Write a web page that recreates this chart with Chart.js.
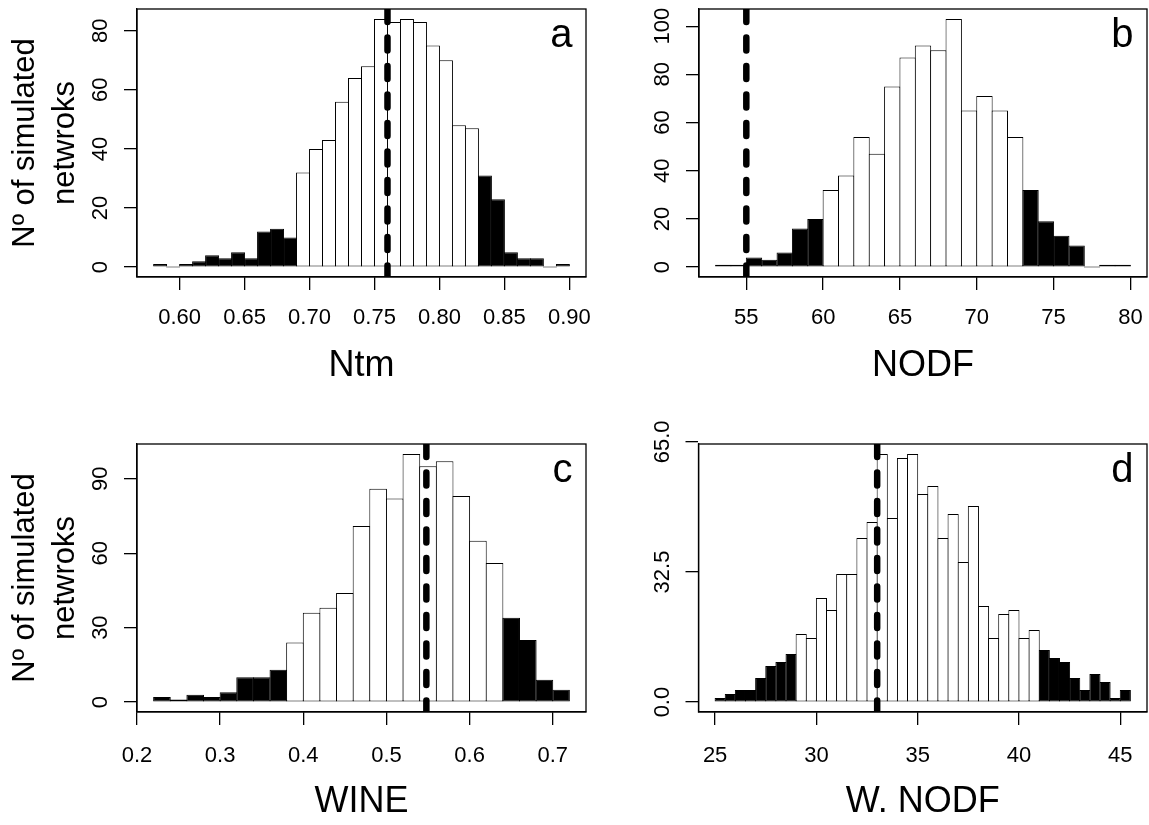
<!DOCTYPE html>
<html>
<head>
<meta charset="utf-8">
<script src="https://cdn.jsdelivr.net/npm/chart.js@4.4.1/dist/chart.umd.min.js"></script>
<style>
  body { margin: 0; background: #fff; }
  #wrap { position: relative; width: 1149px; height: 825px; }
  canvas { position: absolute; }
</style>
</head>
<body>
<div id="wrap">
  <canvas id="panelA" width="600" height="410" style="left:0;top:0"></canvas>
  <canvas id="panelB" width="549" height="410" style="left:600px;top:0"></canvas>
  <canvas id="panelC" width="600" height="415" style="left:0;top:410px"></canvas>
  <canvas id="panelD" width="549" height="415" style="left:600px;top:410px"></canvas>
</div>
<script>
// a: Ntm
const ntmStart = 0.58
const ntmBinWidth = 0.01
const ntmCounts = [1, 0, 1, 2, 4, 3, 5, 3, 12, 13, 10, 32, 40, 43, 56, 64, 68, 84, 83, 84, 83, 75, 70, 48, 47, 31, 23, 5, 3, 3, 0, 1]
const ntmTails = [0.69, 0.83]
const ntmObserved = 0.76
const ntmXTicks = [0.60, 0.65, 0.70, 0.75, 0.80, 0.85, 0.90]
const ntmYTicks = [0, 20, 40, 60, 80]

// b: NODF
const nodfStart = 53
const nodfBinWidth = 1
const nodfCounts = [1, 1, 4, 3, 6, 16, 20, 32, 38, 54, 47, 75, 87, 92, 90, 103, 65, 71, 65, 54, 32, 19, 13, 9, 0, 1, 1]
const nodfTails = [60, 73]
const nodfObserved = 55
const nodfXTicks = [55, 60, 65, 70, 75, 80]
const nodfYTicks = [0, 20, 40, 60, 80, 100]

// c: WINE
const wineStart = 0.22
const wineBinWidth = 0.02
const wineCounts = [2, 1, 3, 2, 4, 10, 10, 13, 24, 36, 38, 44, 71, 86, 82, 100, 95, 97, 83, 65, 56, 34, 25, 9, 5]
const wineTails = [0.38, 0.64]
const wineObserved = 0.548
const wineXTicks = [0.2, 0.3, 0.4, 0.5, 0.6, 0.7]
const wineYTicks = [0, 30, 60, 90]

// d: W. NODF
const wnodfStart = 25
const wnodfBinWidth = 0.5
const wnodfCounts = [1, 2, 3, 3, 6, 9, 10, 12, 17, 16, 26, 23, 32, 32, 41, 45, 62, 46, 61, 62, 52, 54, 41, 47, 35, 49, 24, 16, 22, 23, 16, 18, 13, 11, 10, 6, 3, 7, 5, 1, 3]
const wnodfTails = [29, 41]
const wnodfObserved = 33
const wnodfXTicks = [25, 30, 35, 40, 45]
const wnodfYTicks = [0, 32.5, 65]

const yTitle = ["Nº of simulated", "netwroks"]
const FONT = '"Liberation Sans", Arial, Helvetica, sans-serif'
const TICK_SIZE = 22
Chart.defaults.font.family = FONT
Chart.defaults.color = "#000"

// box around the plot region + panel letter
const panelFrame = {
  id: "panelFrame",
  afterDraw(chart, args, opts) {
    const { ctx, chartArea: a } = chart
    ctx.save()
    ctx.strokeStyle = "#000"
    ctx.lineWidth = 1.3
    ctx.strokeRect(a.left, a.top, a.right - a.left, a.bottom - a.top)
    ctx.font = "40px " + FONT
    ctx.fillStyle = "#000"
    ctx.textAlign = "right"
    ctx.textBaseline = "alphabetic"
    ctx.fillText(opts.letter, a.right - 13.5, a.top + 37.5)
    ctx.restore()
  }
}

const measure = document.createElement("canvas").getContext("2d")
measure.font = TICK_SIZE + "px " + FONT

function drawPanel(id, p) {
  const canvas = document.getElementById(id)
  const n = p.counts.length
  const end = p.start + n * p.bin
  const span = end - p.start
  const xMin = p.start - 0.04 * span
  const xMax = end + 0.04 * span
  const peak = Math.max(...p.counts)
  const yMin = -0.04 * peak
  const yMax = 1.04 * peak

  const bars = p.counts.map((c, i) => ({ x: p.start + (i + 0.5) * p.bin, y: c }))
  const colors = bars.map(b => (b.x < p.tails[0] || b.x > p.tails[1]) ? "#000" : "#fff")

  const areaWidth = canvas.width - p.box.left - p.box.right
  const binPx = p.bin * areaWidth / (xMax - xMin)

  const yLabels = p.yTicks.map(v => v.toFixed(p.yDigits))
  const widest = Math.max(...yLabels.map(s => measure.measureText(s).width))
  const yPad = 23 - widest / 2

  new Chart(canvas, {
    type: "bar",
    data: {
      datasets: [
        {
          type: "line",
          data: [{ x: p.observed, y: yMax }, { x: p.observed, y: yMin }],
          borderColor: "#000",
          borderWidth: 6.5,
          borderDash: [13, 15.5],
          borderCapStyle: "round",
          pointRadius: 0,
          fill: false,
          order: 0
        },
        {
          type: "bar",
          data: bars,
          backgroundColor: colors,
          borderColor: "#000",
          borderWidth: 1,
          borderSkipped: false,
          barPercentage: 1 + 1 / binPx,
          categoryPercentage: 1,
          minBarLength: 1,
          order: 1
        }
      ]
    },
    options: {
      responsive: false,
      animation: false,
      events: [],
      layout: { padding: { left: 0, top: p.box.top, right: p.box.right, bottom: 0 } },
      plugins: {
        legend: { display: false },
        tooltip: { enabled: false },
        panelFrame: { letter: p.letter }
      },
      scales: {
        x: {
          type: "linear",
          min: xMin,
          max: xMax,
          offset: false,
          afterBuildTicks: s => { s.ticks = p.xTicks.map(v => ({ value: v })) },
          afterFit: s => { s.height = p.box.bottom; s.paddingLeft = 0; s.paddingRight = 0 },
          grid: { display: true, offset: false, drawOnChartArea: false, drawTicks: true, tickLength: 13, tickColor: "#000", tickWidth: 1.3, lineWidth: 1.3 },
          border: { display: true, color: "#000", width: 1.3 },
          ticks: {
            font: { size: TICK_SIZE },
            color: "#000",
            padding: p.xPad,
            autoSkip: false,
            maxRotation: 0,
            callback: v => v.toFixed(p.xDigits)
          },
          title: { display: true, text: p.xTitle, color: "#000", font: { size: 36 }, padding: { top: 0, bottom: p.xTitlePad } }
        },
        y: {
          type: "linear",
          min: yMin,
          max: yMax,
          afterBuildTicks: s => { s.ticks = p.yTicks.map(v => ({ value: v })) },
          afterFit: s => { s.width = p.box.left; s.paddingTop = 0; s.paddingBottom = 0 },
          grid: { display: true, drawOnChartArea: false, drawTicks: true, tickLength: 13, tickColor: "#000", tickWidth: 1.3, lineWidth: 1.3 },
          border: { display: true, color: "#000", width: 1.3 },
          ticks: {
            font: { size: TICK_SIZE },
            color: "#000",
            padding: yPad,
            autoSkip: false,
            minRotation: 90,
            maxRotation: 90,
            crossAlign: "center",
            callback: v => v.toFixed(p.yDigits)
          },
          title: p.yTitle
            ? { display: true, text: p.yTitle, color: "#000", font: { size: 31, lineHeight: 1.3 }, padding: { top: 5, bottom: 0 } }
            : { display: false }
        }
      }
    },
    plugins: [panelFrame]
  })
}

drawPanel("panelA", {
  start: ntmStart, bin: ntmBinWidth, counts: ntmCounts, tails: ntmTails, observed: ntmObserved,
  xTicks: ntmXTicks, xDigits: 2, yTicks: ntmYTicks, yDigits: 0,
  xTitle: "Ntm", yTitle: yTitle, letter: "a",
  box: { left: 137, top: 9, right: 14, bottom: 133 }, xPad: 15, xTitlePad: 22
})
drawPanel("panelB", {
  start: nodfStart, bin: nodfBinWidth, counts: nodfCounts, tails: nodfTails, observed: nodfObserved,
  xTicks: nodfXTicks, xDigits: 0, yTicks: nodfYTicks, yDigits: 0,
  xTitle: "NODF", yTitle: null, letter: "b",
  box: { left: 99, top: 9, right: 2, bottom: 133 }, xPad: 15, xTitlePad: 22
})
drawPanel("panelC", {
  start: wineStart, bin: wineBinWidth, counts: wineCounts, tails: wineTails, observed: wineObserved,
  xTicks: wineXTicks, xDigits: 1, yTicks: wineYTicks, yDigits: 0,
  xTitle: "WINE", yTitle: yTitle, letter: "c",
  box: { left: 137, top: 34, right: 14, bottom: 113 }, xPad: 17.4, xTitlePad: 1
})
drawPanel("panelD", {
  start: wnodfStart, bin: wnodfBinWidth, counts: wnodfCounts, tails: wnodfTails, observed: wnodfObserved,
  xTicks: wnodfXTicks, xDigits: 0, yTicks: wnodfYTicks, yDigits: 1,
  xTitle: "W. NODF", yTitle: null, letter: "d",
  box: { left: 98.5, top: 34, right: 2, bottom: 113 }, xPad: 17.4, xTitlePad: 1
})
</script>
</body>
</html>
